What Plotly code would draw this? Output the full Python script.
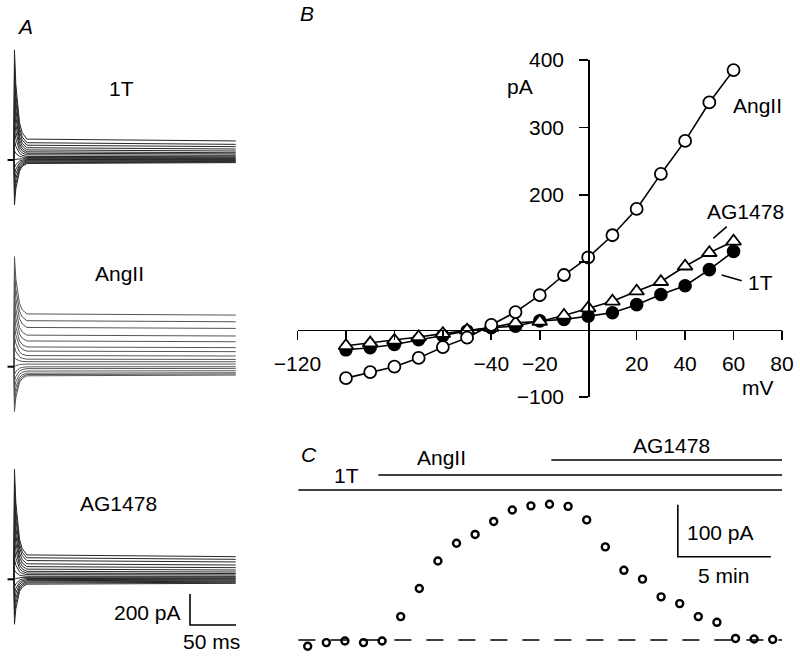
import plotly.graph_objects as go

W, H = 800, 659
FONT = "Liberation Sans, Arial, sans-serif"

# ---------------- data ----------------
# Panel A: current-trace families (steady-state level per voltage step, pA)
STEP_MV = [-100, -90, -80, -70, -60, -50, -40, -30, -20, -10, 0, 10, 20, 30, 40, 50, 60]
LEVEL_1T = [-17, -13, -9, -4, 0, 4, 9, 15, 21, 30, 39, 47, 58, 71, 86, 101, 123]
LEVEL_ANGII = [-54, -47, -39, -26, -11, 0, 17, 32, 47, 69, 97, 123, 161, 198, 247, 290, 333]
LEVEL_AG1478 = [-26, -19, -13, -6, 0, 6, 13, 19, 28, 37, 47, 60, 75, 92, 112, 129, 146]
TRANSIENT_PEAK_PA = [-290, -240, -190, -140, -95, -50, 0, 60, 130, 200, 270, 340, 410, 480, 560, 630, 710]
TRANSIENT_T_MS = [0, 0.5, 2, 4, 6, 9, 14, 241]
TRANSIENT_FRAC = [0, 1, 0.62, 0.36, 0.2, 0.09, 0.02, 0]
A_LABELS = ["1T", "AngII", "AG1478"]
SCALE_MS = 50
SCALE_PA = 200

# Panel B: I-V relations
IV_MV = [-100, -90, -80, -70, -60, -50, -40, -30, -20, -10, 0, 10, 20, 30, 40, 50, 60]
IV_1T = [-30, -27, -22, -15, -9, -2, 3, 5, 13, 15, 20, 25, 37, 52, 65, 89, 116]
IV_ANGII = [-72, -63, -55, -42, -26, -12, 7, 26, 51, 81, 107, 140, 179, 231, 280, 337, 385]
IV_AG1478 = [-24, -20, -16, -11, -6, -1, 3, 10, 12, 21, 32, 42, 57, 71, 94, 114, 131]
B_XTICKS = [-120, -100, -80, -60, -40, -20, 20, 40, 60, 80]
B_XTICKTEXT = ["\u2212120", "", "", "", "\u221240", "\u221220", "20", "40", "60", "80"]
B_YTICKS = [-100, 100, 200, 300, 400]
B_YTICKTEXT = ["\u2212100", "", "200", "300", "400"]

# Panel C: time course
C_TIME_MIN = [0, 1, 2, 3, 4, 5, 6, 7, 8, 9, 10, 11, 12, 13, 14, 15, 16, 17, 18, 19, 20, 21, 22, 23, 24, 25]
C_CURRENT_PA = [-12, -5, -2, -5, -2, 45, 99, 152, 186, 203, 228, 250, 258, 261, 257, 231,
                179, 134, 117, 83, 70, 45, 34, 3, 2, 1]
TREAT_LABELS = ["1T", "AngII", "AG1478"]
TREAT_START_MIN = [-0.5, 3.8, 13.1]
TREAT_END_MIN = 25.5
C_SCALE_MIN = 5
C_SCALE_PA = 100


# ---------------- helpers ----------------
def xdom(x0, x1):
    return [x0 / W, x1 / W]


def ydom(top, bottom):
    return [1 - bottom / H, 1 - top / H]


def X(px):
    return px / W


def Y(py):
    return 1 - py / H


fig = go.Figure()
annotations = []
shapes = []


def ann(text, x, y, size=21, italic=False, xanchor="center", yanchor="middle"):
    if italic:
        text = "<i>" + text + "</i>"
    annotations.append(dict(text=text, x=X(x), y=Y(y), xref="paper", yref="paper",
                            showarrow=False, xanchor=xanchor, yanchor=yanchor,
                            font=dict(family=FONT, size=size, color="black")))


def seg(x0, y0, x1, y1, width=1.6):
    shapes.append(dict(type="line", xref="paper", yref="paper", x0=X(x0), y0=Y(y0), x1=X(x1), y1=Y(y1),
                       line=dict(color="black", width=width)))


# ---------------- Panel A ----------------
A_T0_PX = 14
A_PX_PER_MS = 0.92
A_PX_PER_PA = 0.155
A_X_BOX = (4, 250)
A_BOXES = [(40, 215, 160.0), (240, 420, 366.7), (455, 650, 579.3)]
A_LEVELS = [LEVEL_1T, LEVEL_ANGII, LEVEL_AG1478]
A_COLORS = ["#262626", "#555555", "#262626"]

layout_axes = {}
for i, ((top, bot, base), levels) in enumerate(zip(A_BOXES, A_LEVELS), start=1):
    xs, ys = [], []
    for lvl, pk in zip(levels, TRANSIENT_PEAK_PA):
        xs += TRANSIENT_T_MS + [None]
        ys += [0] + [lvl + (pk - lvl) * f for f in TRANSIENT_FRAC[1:]] + [None]
    fig.add_trace(go.Scatter(x=xs, y=ys, mode="lines", xaxis=f"x{i}", yaxis=f"y{i}",
                             line=dict(color=A_COLORS[i - 1], width=1.0), hoverinfo="skip"))
    # zero-current marker
    fig.add_trace(go.Scatter(x=[-7, 0], y=[0, 0], mode="lines", xaxis=f"x{i}", yaxis=f"y{i}",
                             line=dict(color="black", width=2), hoverinfo="skip"))
    xr = [(A_X_BOX[0] - A_T0_PX) / A_PX_PER_MS, (A_X_BOX[1] - A_T0_PX) / A_PX_PER_MS]
    yr = [-(bot - base) / A_PX_PER_PA, (base - top) / A_PX_PER_PA]
    sfx = "" if i == 1 else str(i)
    layout_axes[f"xaxis{sfx}"] = dict(domain=xdom(*A_X_BOX), range=xr, visible=False,
                                      anchor=f"y{i}", automargin=False)
    layout_axes[f"yaxis{sfx}"] = dict(domain=ydom(top, bot), range=yr, visible=False,
                                      anchor=f"x{i}", automargin=False)

# scale bar in A3
sb_t1 = 241.3
sb_t0 = sb_t1 - SCALE_MS
sb_p0 = -295
fig.add_trace(go.Scatter(x=[sb_t0, sb_t0, sb_t1], y=[sb_p0 + SCALE_PA, sb_p0, sb_p0], mode="lines",
                         xaxis="x3", yaxis="y3", line=dict(color="black", width=1.6), hoverinfo="skip"))

ann("A", 25, 27, italic=True)
ann(A_LABELS[0], 121, 89)
ann(A_LABELS[1], 119.5, 273)
ann(A_LABELS[2], 118.5, 503)
ann(f"{SCALE_PA} pA", 183, 612, xanchor="right")
ann(f"{SCALE_MS} ms", 211, 641)

# ---------------- Panel B ----------------
B_XR = [-120, 80]
B_YR = [-100, 400]
B_XPX = (297.5, 782)
B_YPX = (60, 397)
x_zero_px = B_XPX[0] + (0 - B_XR[0]) / (B_XR[1] - B_XR[0]) * (B_XPX[1] - B_XPX[0])
y_zero_px = B_YPX[1] - (0 - B_YR[0]) / (B_YR[1] - B_YR[0]) * (B_YPX[1] - B_YPX[0])

common_b = dict(showgrid=False, zeroline=False, showline=True, linecolor="black", linewidth=1.6,
                ticks="outside", ticklen=9, tickwidth=1.6, tickcolor="black", automargin=False,
                tickfont=dict(family=FONT, size=21, color="black"))
layout_axes["xaxis4"] = dict(domain=xdom(*B_XPX), range=B_XR, anchor="free", position=Y(y_zero_px),
                             tickmode="array", tickvals=B_XTICKS, ticktext=B_XTICKTEXT,
                             ticklabelstandoff=6, **common_b)
layout_axes["yaxis4"] = dict(domain=ydom(*B_YPX), range=B_YR, anchor="free", position=X(x_zero_px),
                             tickmode="array", tickvals=B_YTICKS, ticktext=B_YTICKTEXT,
                             ticklabelstandoff=11, **common_b)

fig.add_trace(go.Scatter(x=IV_MV, y=IV_1T, mode="lines+markers", xaxis="x4", yaxis="y4",
                         line=dict(color="black", width=1.6),
                         marker=dict(symbol="circle", size=12, color="black",
                                     line=dict(color="black", width=1.6)), hoverinfo="skip"))
fig.add_trace(go.Scatter(x=IV_MV, y=IV_AG1478, mode="lines+markers", xaxis="x4", yaxis="y4",
                         line=dict(color="black", width=1.6),
                         marker=dict(symbol="triangle-up", size=13, color="white",
                                     line=dict(color="black", width=1.8)), hoverinfo="skip"))
fig.add_trace(go.Scatter(x=IV_MV, y=IV_ANGII, mode="lines+markers", xaxis="x4", yaxis="y4",
                         line=dict(color="black", width=1.6),
                         marker=dict(symbol="circle", size=12, color="white",
                                     line=dict(color="black", width=1.8)), hoverinfo="skip"))

ann("B", 307, 14, italic=True)
ann("pA", 520, 87)
ann("mV", 758, 387)
ann("AngII", 757, 105)
ann("AG1478", 745, 212)
ann("1T", 760, 282)
seg(713.3, 238.3, 726.7, 226.7)
seg(721.7, 275, 741.7, 280.7)

# ---------------- Panel C ----------------
C_T0_PX = 307.7
C_PX_PER_MIN = 18.6
C_BASE_PX = 640
C_PX_PER_PA = 0.52
C_XPX = (290, 790)
C_YPX = (430, 655)
layout_axes["xaxis5"] = dict(domain=xdom(*C_XPX), visible=False, anchor="y5", automargin=False,
                             range=[(C_XPX[0] - C_T0_PX) / C_PX_PER_MIN, (C_XPX[1] - C_T0_PX) / C_PX_PER_MIN])
layout_axes["yaxis5"] = dict(domain=ydom(*C_YPX), visible=False, anchor="x5", automargin=False,
                             range=[(C_BASE_PX - C_YPX[1]) / C_PX_PER_PA, (C_BASE_PX - C_YPX[0]) / C_PX_PER_PA])

# dashed zero line
shapes.append(dict(type="line", xref="x5", yref="y5", x0=TREAT_START_MIN[0], x1=TREAT_END_MIN, y0=0, y1=0,
                   line=dict(color="black", width=1.6, dash="17px,15px")))
fig.add_trace(go.Scatter(x=C_TIME_MIN, y=C_CURRENT_PA, mode="markers", xaxis="x5", yaxis="y5",
                         marker=dict(symbol="circle", size=7, color="white",
                                     line=dict(color="black", width=2.4)), hoverinfo="skip"))

# treatment bars
TREAT_Y_PX = [490, 475, 460]
for start, ypx in zip(TREAT_START_MIN, TREAT_Y_PX):
    shapes.append(dict(type="line", xref="x5", yref="paper", x0=start, x1=TREAT_END_MIN,
                       y0=Y(ypx), y1=Y(ypx), line=dict(color="black", width=1.6)))

# scale bar in C
cs_t0 = 19.9
cs_p0 = 160
fig.add_trace(go.Scatter(x=[cs_t0, cs_t0, cs_t0 + C_SCALE_MIN], y=[cs_p0 + C_SCALE_PA, cs_p0, cs_p0],
                         mode="lines", xaxis="x5", yaxis="y5",
                         line=dict(color="black", width=1.6), hoverinfo="skip"))

ann("C", 308.5, 454, italic=True)
ann(TREAT_LABELS[0], 346.7, 475)
ann(TREAT_LABELS[1], 441.7, 457)
ann(TREAT_LABELS[2], 671.7, 445)
ann(f"{C_SCALE_PA} pA", 685, 532, xanchor="left")
ann(f"{C_SCALE_MIN} min", 723.3, 575)

fig.update_layout(width=W, height=H, margin=dict(l=0, r=0, t=0, b=0, pad=0, autoexpand=False),
                  paper_bgcolor="white", plot_bgcolor="white", showlegend=False,
                  annotations=annotations, shapes=shapes, **layout_axes)

fig.write_html("out.html", config={"displayModeBar": False, "staticPlot": True},
               post_script="document.body.style.margin='0px';document.body.style.padding='0px';"
                           "document.documentElement.style.overflow='hidden';")
